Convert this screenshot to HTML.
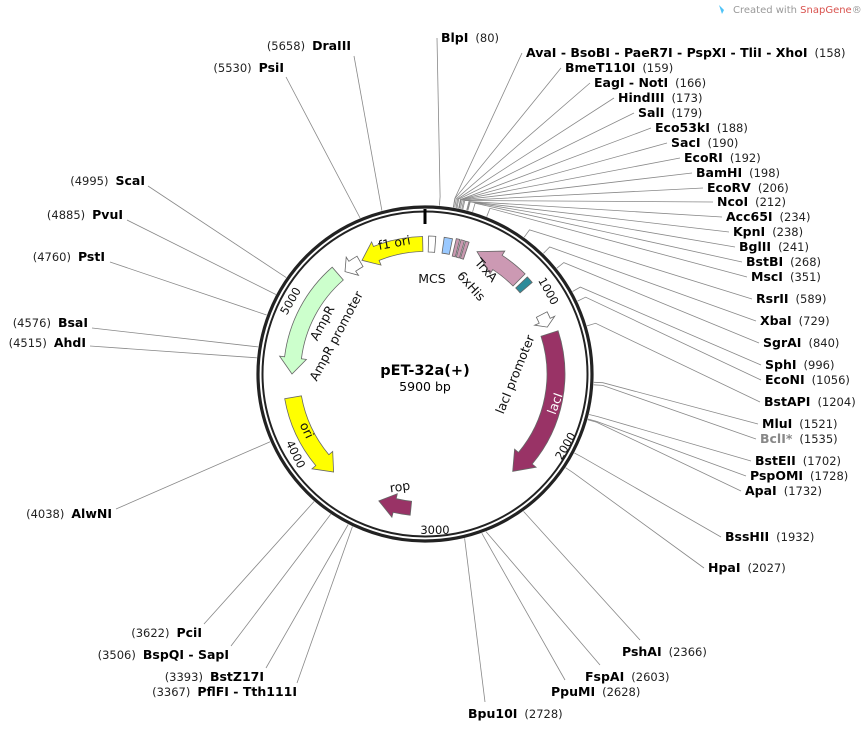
<!DOCTYPE html>
<html><head><meta charset="utf-8"><style>
html,body{margin:0;padding:0;background:#fff;}
svg{display:block;font-family:"DejaVu Sans","Liberation Sans",sans-serif;}
.n{font-weight:bold;font-size:12.5px;fill:#000}
.p{font-size:11.5px;fill:#222}
</style></head><body>
<svg id="s" width="861" height="729" viewBox="0 0 861 729" xmlns="http://www.w3.org/2000/svg">
<g id="lines" stroke="#888" stroke-width="0.8" fill="none"></g>
<circle cx="425" cy="374" r="167" fill="none" stroke="#222" stroke-width="3.2"/>
<circle cx="425" cy="374" r="162.5" fill="none" stroke="#222" stroke-width="2"/>
<g id="feat"></g>
<line x1="425" y1="209" x2="425" y2="224" stroke="#000" stroke-width="3"/>
<g font-size="11.5" fill="#111">
<text transform="translate(545,293) rotate(61)" text-anchor="middle">1000</text>
<text transform="translate(569,448) rotate(-60)" text-anchor="middle">2000</text>
<text x="435" y="534" text-anchor="middle">3000</text>
<text transform="translate(292,456) rotate(64)" text-anchor="middle">4000</text>
<text transform="translate(294,303) rotate(-60)" text-anchor="middle">5000</text>
<text transform="translate(395,247) rotate(-10)" text-anchor="middle" font-size="12.5">f1 ori</text>
<text x="432" y="283" text-anchor="middle" font-size="12.5">MCS</text>
<text transform="translate(483,273) rotate(48)" text-anchor="middle" font-size="12.5">TrxA</text>
<text transform="translate(468,289) rotate(48)" text-anchor="middle" font-size="12.5">6xHis</text>
<text transform="translate(326,325) rotate(-62)" text-anchor="middle" font-size="12.5">AmpR</text>
<text transform="translate(340,338) rotate(-62)" text-anchor="middle" font-size="12.5">AmpR promoter</text>
<text transform="translate(303,432) rotate(64)" text-anchor="middle" font-size="12.5">ori</text>
<text x="400" y="491" text-anchor="middle" font-size="12.5" transform="rotate(-8,400,487)">rop</text>
<text transform="translate(519,376) rotate(-68)" text-anchor="middle" font-size="12.5">lacI promoter</text>
<text transform="translate(559,405) rotate(-70)" text-anchor="middle" font-size="12.5" fill="#fff">lacI</text>
</g>
<text x="425" y="375" text-anchor="middle" font-weight="bold" font-size="14.5">pET-32a(+)</text>
<text x="425" y="391" text-anchor="middle" font-size="12.5">5900 bp</text>
<text x="733" y="13" font-size="10" fill="#999">Created with <tspan fill="#d9534f">SnapGene</tspan>®</text>
<path d="M719 5 l3 9 l2 -4 z" fill="#4fc3f7"/>

<g>
<text x="441" y="42"><tspan class="n">BlpI</tspan><tspan class="p" dx="7">(80)</tspan></text>
<text x="526" y="57"><tspan class="n">AvaI - BsoBI - PaeR7I - PspXI - TliI - XhoI</tspan><tspan class="p" dx="7">(158)</tspan></text>
<text x="565" y="72"><tspan class="n">BmeT110I</tspan><tspan class="p" dx="7">(159)</tspan></text>
<text x="594" y="87"><tspan class="n">EagI - NotI</tspan><tspan class="p" dx="7">(166)</tspan></text>
<text x="618" y="102"><tspan class="n">HindIII</tspan><tspan class="p" dx="7">(173)</tspan></text>
<text x="638" y="117"><tspan class="n">SalI</tspan><tspan class="p" dx="7">(179)</tspan></text>
<text x="655" y="132"><tspan class="n">Eco53kI</tspan><tspan class="p" dx="7">(188)</tspan></text>
<text x="671" y="147"><tspan class="n">SacI</tspan><tspan class="p" dx="7">(190)</tspan></text>
<text x="684" y="162"><tspan class="n">EcoRI</tspan><tspan class="p" dx="7">(192)</tspan></text>
<text x="696" y="177"><tspan class="n">BamHI</tspan><tspan class="p" dx="7">(198)</tspan></text>
<text x="707" y="192"><tspan class="n">EcoRV</tspan><tspan class="p" dx="7">(206)</tspan></text>
<text x="717" y="206"><tspan class="n">NcoI</tspan><tspan class="p" dx="7">(212)</tspan></text>
<text x="726" y="221"><tspan class="n">Acc65I</tspan><tspan class="p" dx="7">(234)</tspan></text>
<text x="733" y="236"><tspan class="n">KpnI</tspan><tspan class="p" dx="7">(238)</tspan></text>
<text x="739" y="251"><tspan class="n">BglII</tspan><tspan class="p" dx="7">(241)</tspan></text>
<text x="746" y="266"><tspan class="n">BstBI</tspan><tspan class="p" dx="7">(268)</tspan></text>
<text x="751" y="281"><tspan class="n">MscI</tspan><tspan class="p" dx="7">(351)</tspan></text>
<text x="756" y="303"><tspan class="n">RsrII</tspan><tspan class="p" dx="7">(589)</tspan></text>
<text x="760" y="325"><tspan class="n">XbaI</tspan><tspan class="p" dx="7">(729)</tspan></text>
<text x="763" y="347"><tspan class="n">SgrAI</tspan><tspan class="p" dx="7">(840)</tspan></text>
<text x="765" y="369"><tspan class="n">SphI</tspan><tspan class="p" dx="7">(996)</tspan></text>
<text x="765" y="384"><tspan class="n">EcoNI</tspan><tspan class="p" dx="7">(1056)</tspan></text>
<text x="764" y="406"><tspan class="n">BstAPI</tspan><tspan class="p" dx="7">(1204)</tspan></text>
<text x="762" y="428"><tspan class="n">MluI</tspan><tspan class="p" dx="7">(1521)</tspan></text>
<text x="760" y="443"><tspan class="n" style="fill:#888">BclI*</tspan><tspan class="p" dx="7">(1535)</tspan></text>
<text x="755" y="465"><tspan class="n">BstEII</tspan><tspan class="p" dx="7">(1702)</tspan></text>
<text x="750" y="480"><tspan class="n">PspOMI</tspan><tspan class="p" dx="7">(1728)</tspan></text>
<text x="745" y="495"><tspan class="n">ApaI</tspan><tspan class="p" dx="7">(1732)</tspan></text>
<text x="725" y="541"><tspan class="n">BssHII</tspan><tspan class="p" dx="7">(1932)</tspan></text>
<text x="708" y="572"><tspan class="n">HpaI</tspan><tspan class="p" dx="7">(2027)</tspan></text>
<text x="622" y="656"><tspan class="n">PshAI</tspan><tspan class="p" dx="7">(2366)</tspan></text>
<text x="585" y="681"><tspan class="n">FspAI</tspan><tspan class="p" dx="7">(2603)</tspan></text>
<text x="551" y="696"><tspan class="n">PpuMI</tspan><tspan class="p" dx="7">(2628)</tspan></text>
<text x="468" y="718"><tspan class="n">Bpu10I</tspan><tspan class="p" dx="7">(2728)</tspan></text>
</g>
<g text-anchor="end">
<text x="351" y="50"><tspan class="p">(5658)</tspan><tspan class="n" dx="7">DraIII</tspan></text>
<text x="284" y="72"><tspan class="p">(5530)</tspan><tspan class="n" dx="7">PsiI</tspan></text>
<text x="145" y="185"><tspan class="p">(4995)</tspan><tspan class="n" dx="7">ScaI</tspan></text>
<text x="123" y="219"><tspan class="p">(4885)</tspan><tspan class="n" dx="7">PvuI</tspan></text>
<text x="105" y="261"><tspan class="p">(4760)</tspan><tspan class="n" dx="7">PstI</tspan></text>
<text x="88" y="327"><tspan class="p">(4576)</tspan><tspan class="n" dx="7">BsaI</tspan></text>
<text x="86" y="347"><tspan class="p">(4515)</tspan><tspan class="n" dx="7">AhdI</tspan></text>
<text x="112" y="518"><tspan class="p">(4038)</tspan><tspan class="n" dx="7">AlwNI</tspan></text>
<text x="202" y="637"><tspan class="p">(3622)</tspan><tspan class="n" dx="7">PciI</tspan></text>
<text x="229" y="659"><tspan class="p">(3506)</tspan><tspan class="n" dx="7">BspQI - SapI</tspan></text>
<text x="264" y="681"><tspan class="p">(3393)</tspan><tspan class="n" dx="7">BstZ17I</tspan></text>
<text x="297" y="696"><tspan class="p">(3367)</tspan><tspan class="n" dx="7">PflFI - Tth111I</tspan></text>
</g>
</svg>
<script>
var cx=425,cy=374,NS="http://www.w3.org/2000/svg";
function P(r,a){a=a*Math.PI/180;return [cx+r*Math.sin(a),cy-r*Math.cos(a)];}
function ang(p){return p/5900*360;}
var L=document.getElementById('lines');
function ln(pts){var e=document.createElementNS(NS,'polyline');e.setAttribute('points',pts.map(function(p){return p[0].toFixed(1)+','+p[1].toFixed(1)}).join(' '));L.appendChild(e);}
var R=[[80,441,38],[158,526,53],[159,565,68],[166,594,83],[173,618,98],[179,638,113],[188,655,128],[190,671,143],[192,684,158],[198,696,173],[206,707,188],[212,717,202],[234,726,217],[238,733,232],[241,739,247],[268,746,262],[351,751,277],[589,756,299],[729,760,321],[840,763,343],[996,765,365],[1056,765,380],[1204,764,402],[1521,762,424],[1535,760,439],[1702,755,461],[1728,750,476],[1732,745,491],[1932,725,537],[2027,708,568]];
R.forEach(function(d){var a=ang(d[0]);ln([P(169,a),P(178,a),[d[1]-4,d[2]]]);});
var B=[[2366,640,640],[2603,600,665],[2628,565,680],[2728,485,702]];
B.forEach(function(d){var a=ang(d[0]);ln([P(169,a),[d[1],d[2]]]);});
var Lf=[[5658,354,56],[5530,286,77],[4995,148,186],[4885,127,220],[4760,110,262],[4576,92,328],[4515,90,346],[4038,116,509],[3622,204,624],[3506,231,646],[3393,266,668],[3367,297,683]];
Lf.forEach(function(d){var a=ang(d[0]);ln([P(169,a),[d[1],d[2]]]);});
var F=document.getElementById('feat');
function path(d,fill,stroke){var e=document.createElementNS(NS,'path');e.setAttribute('d',d);e.setAttribute('fill',fill);e.setAttribute('stroke',stroke||'#666');e.setAttribute('stroke-width','0.8');F.appendChild(e);}
function f(p){return p[0].toFixed(1)+' '+p[1].toFixed(1);}
function arrow(a1,a2,r,w,fill,hd,stroke){
  var s=a2>a1?1:-1; hd=hd||8; var ah=a2-s*hd;
  var ro=r+w/2,ri=r-w/2,ho=r+w/2+5,hi=r-w/2-5;
  var big=Math.abs(ah-a1)>180?1:0, sw1=s>0?1:0, sw2=s>0?0:1;
  var d='M'+f(P(ro,a1))+' A'+ro+' '+ro+' 0 '+big+' '+sw1+' '+f(P(ro,ah))+' L'+f(P(ho,ah))+' L'+f(P(r,a2))+' L'+f(P(hi,ah))+' L'+f(P(ri,ah))+' A'+ri+' '+ri+' 0 '+big+' '+sw2+' '+f(P(ri,a1))+' Z';
  path(d,fill,stroke);
}
function box(a1,a2,r,w,fill){var ro=r+w/2,ri=r-w/2;path('M'+f(P(ro,a1))+' A'+ro+' '+ro+' 0 0 1 '+f(P(ro,a2))+' L'+f(P(ri,a2))+' A'+ri+' '+ri+' 0 0 0 '+f(P(ri,a1))+' Z',fill);}
arrow(-1,-29,130,15,'#ffff00',7);
box(1.5,4.5,130,16,'#fff');
box(8,11.5,130,16,'#9ac9ff');
box(13,14.5,130,18,'#c999b0');box(15,16.5,130,18,'#c999b0');box(17,18.5,130,18,'#c999b0');
arrow(45,23,133,17,'#cc99b3',10);
box(46.5,49.5,133,16,'#2e8b9a');
arrow(-30,-38,130,12,'#fff',4);
arrow(-41,-90,133,17,'#ccffcc',7);
arrow(-100,-137,134,17,'#ffff00',7);
arrow(-174,-160,135,14,'#993366',7);
arrow(63,69,131,12,'#fff',3);
arrow(72,138,131,18,'#993366',8);
</script>
</body></html>
